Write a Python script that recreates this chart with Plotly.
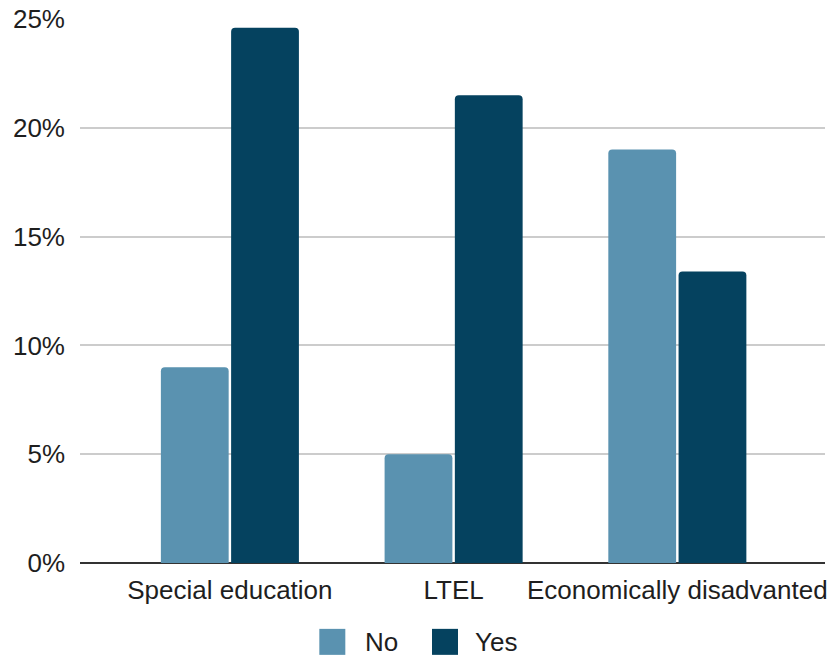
import plotly.graph_objects as go

# Share of students by group, split by status
categories = ["Special education", "LTEL", "Economically disadvanted"]
series_names = ["No", "Yes"]
no_values = [9.0, 5.0, 19.0]
yes_values = [24.6, 21.5, 13.4]
y_ticks = [0, 5, 10, 15, 20, 25]
y_tick_labels = ["0%", "5%", "10%", "15%", "20%", "25%"]

colors = {"No": "#5a92b0", "Yes": "#05425f"}
font_family = "Arial, Liberation Sans, Helvetica, sans-serif"
text_color = "#1e1e1e"
font_size = 26

W, H = 831, 656
margin = dict(l=80, r=4, t=18, b=93)
plot_w = W - margin["l"] - margin["r"]
plot_h = H - margin["t"] - margin["b"]

fig = go.Figure()
for name, vals in zip(series_names, [no_values, yes_values]):
    fig.add_trace(go.Bar(
        x=categories, y=vals, name=name,
        marker=dict(color=colors[name], line=dict(width=0), cornerradius=4),
        showlegend=False,
        hovertemplate="%{x}<br>" + name + ": %{y}%<extra></extra>",
    ))

# Legend drawn as large swatches centred under the plot
def px_to_paper_x(px):
    return (px - margin["l"]) / plot_w

def px_to_paper_y(py):
    return (H - margin["b"] - py) / plot_h

legend_items = [("No", 333, 364), ("Yes", 446, 474)]
legend_y = 642
shapes = []
annotations = []
for name, sx, tx in legend_items:
    shapes.append(dict(
        type="rect", xref="paper", yref="paper",
        xsizemode="pixel", ysizemode="pixel",
        xanchor=px_to_paper_x(sx), yanchor=px_to_paper_y(legend_y),
        x0=-13, x1=13, y0=-13, y1=13,
        fillcolor=colors[name], line=dict(width=0), layer="above",
    ))
    annotations.append(dict(
        text=name, xref="paper", yref="paper",
        x=px_to_paper_x(tx), y=px_to_paper_y(legend_y),
        xanchor="left", yanchor="middle", showarrow=False,
        font=dict(size=font_size, color=text_color, family=font_family),
    ))

fig.update_layout(
    width=W, height=H, margin=margin,
    paper_bgcolor="white", plot_bgcolor="white",
    barmode="group", bargap=0.372, bargroupgap=0.035,
    font=dict(family=font_family, size=font_size, color=text_color),
    shapes=shapes, annotations=annotations,
    xaxis=dict(
        range=[-0.67, 2.66], showgrid=False, showline=False, zeroline=False,
        ticks="", tickfont=dict(size=font_size, color=text_color), ticklabelstandoff=9,
    ),
    yaxis=dict(
        range=[0, 25], tickvals=y_ticks, ticktext=y_tick_labels,
        showgrid=True, gridcolor="#cccccc", gridwidth=1.5,
        zeroline=True, zerolinecolor="#333333", zerolinewidth=1.5,
        showline=False, ticks="", ticklabelstandoff=14,
        tickfont=dict(size=font_size, color=text_color),
    ),
)

fig.write_html("out.html")
